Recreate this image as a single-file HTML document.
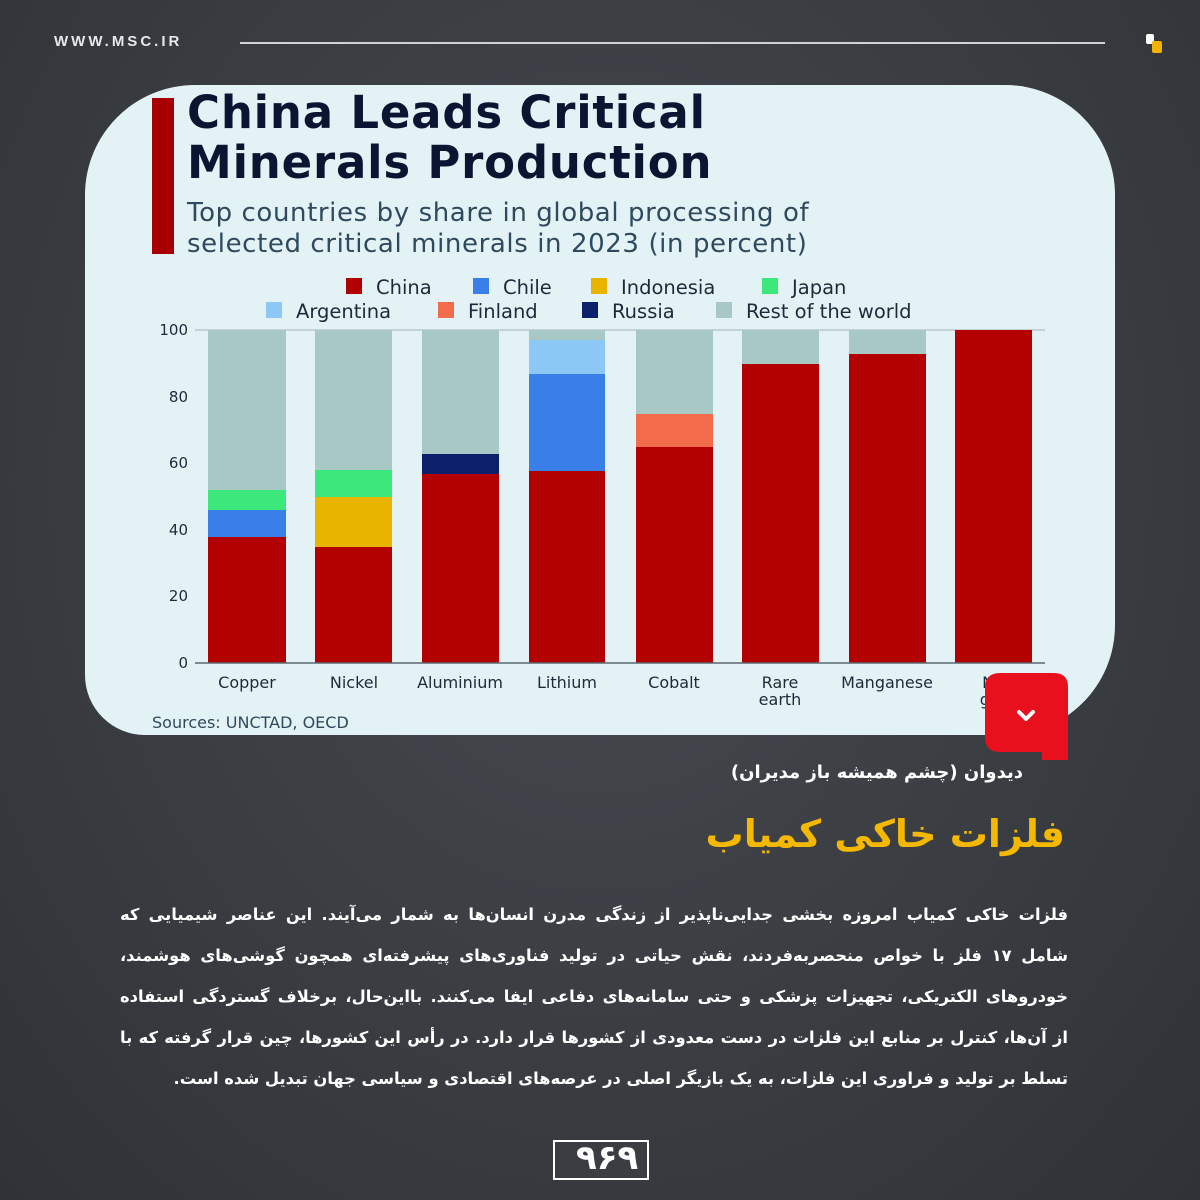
<!DOCTYPE html>
<html><head><meta charset="utf-8"><style>
body{margin:0;width:1200px;height:1200px;overflow:hidden;background:radial-gradient(ellipse at 50% 40%,#474a50 0%,#3a3d42 55%,#2f3236 100%);font-family:"DejaVu Sans","Liberation Sans",sans-serif;position:relative}
.abs{position:absolute}
.fa{font-family:"DejaVu Sans","Noto Sans CJK SC",sans-serif;direction:rtl;color:#fff}
.ln{position:absolute;left:120px;width:948px;font-size:16.3px;font-weight:bold;text-align:justify;text-align-last:justify;white-space:nowrap;direction:rtl}
</style></head><body>
<div class="abs" style="left:54px;top:33px;color:#e8e8e8;font-size:15px;letter-spacing:3px;font-weight:bold;font-family:'Liberation Sans',sans-serif">WWW.MSC.IR</div>
<div class="abs" style="left:240px;top:42px;width:865px;height:2px;background:#cfd2d6"></div>
<div class="abs" style="left:1146px;top:34px;width:8px;height:10px;background:#fff;border-radius:2px"></div>
<div class="abs" style="left:1152px;top:41px;width:10px;height:12px;background:#f2b400;border-radius:2px"></div>

<div class="abs" style="left:85px;top:85px;width:1030px;height:650px;background:#e3f3f5;border-radius:110px 110px 110px 60px"></div>
<div class="abs" style="left:152px;top:98px;width:22px;height:156px;background:#a80000"></div>
<div class="abs" style="left:187px;top:88px;font-size:45px;font-weight:bold;line-height:50px;color:#0b1430;letter-spacing:0.8px">China Leads Critical<br>Minerals Production</div>
<div class="abs" style="left:187px;top:198px;font-size:26px;line-height:31px;color:#2f4a5e;letter-spacing:0.6px">Top countries by share in global processing of<br>selected critical minerals in 2023 (in percent)</div>

<svg class="abs" style="left:0;top:0" width="1200" height="760" font-family="DejaVu Sans, sans-serif">
<g font-size="19.5" fill="#1d2a3a">
<rect x="346" y="278" width="16" height="16" fill="#b00000"/><text x="376" y="294">China</text>
<rect x="473" y="278" width="16" height="16" fill="#3a7ee8"/><text x="503" y="294">Chile</text>
<rect x="591" y="278" width="16" height="16" fill="#e8b400"/><text x="621" y="294">Indonesia</text>
<rect x="762" y="278" width="16" height="16" fill="#3de87a"/><text x="792" y="294">Japan</text>
<rect x="266" y="302" width="16" height="16" fill="#8cc8f5"/><text x="296" y="318">Argentina</text>
<rect x="438" y="302" width="16" height="16" fill="#f26b4a"/><text x="468" y="318">Finland</text>
<rect x="582" y="302" width="16" height="16" fill="#0b1f6b"/><text x="612" y="318">Russia</text>
<rect x="716" y="302" width="16" height="16" fill="#a8c8c6"/><text x="746" y="318">Rest of the world</text>
</g>
<g font-size="15" fill="#1d2a3a" text-anchor="end">
<text x="188" y="335">100</text><text x="188" y="402">80</text><text x="188" y="468">60</text><text x="188" y="535">40</text><text x="188" y="601">20</text><text x="188" y="668">0</text>
</g>
<line x1="195" y1="330" x2="1045" y2="330" stroke="#b8c8cc" stroke-width="1.5"/>
<g>
<rect x="208" y="330" width="78" height="160" fill="#a8c8c6"/>
<rect x="208" y="490" width="78" height="20" fill="#3de87a"/>
<rect x="208" y="510" width="78" height="27" fill="#3a7ee8"/>
<rect x="208" y="537" width="78" height="126" fill="#b30000"/>
<rect x="315" y="330" width="77" height="140" fill="#a8c8c6"/>
<rect x="315" y="470" width="77" height="27" fill="#3de87a"/>
<rect x="315" y="497" width="77" height="50" fill="#e8b400"/>
<rect x="315" y="547" width="77" height="116" fill="#b30000"/>
<rect x="422" y="330" width="77" height="124" fill="#a8c8c6"/>
<rect x="422" y="454" width="77" height="20" fill="#0b1f6b"/>
<rect x="422" y="474" width="77" height="189" fill="#b30000"/>
<rect x="529" y="330" width="76" height="10" fill="#a8c8c6"/>
<rect x="529" y="340" width="76" height="34" fill="#8cc8f5"/>
<rect x="529" y="374" width="76" height="97" fill="#3a7ee8"/>
<rect x="529" y="471" width="76" height="192" fill="#b30000"/>
<rect x="636" y="330" width="77" height="84" fill="#a8c8c6"/>
<rect x="636" y="414" width="77" height="33" fill="#f26b4a"/>
<rect x="636" y="447" width="77" height="216" fill="#b30000"/>
<rect x="742" y="330" width="77" height="34" fill="#a8c8c6"/>
<rect x="742" y="364" width="77" height="299" fill="#b30000"/>
<rect x="849" y="330" width="77" height="24" fill="#a8c8c6"/>
<rect x="849" y="354" width="77" height="309" fill="#b30000"/>
<rect x="955" y="330" width="77" height="333" fill="#b30000"/>
</g>
<line x1="195" y1="663" x2="1045" y2="663" stroke="#5a6770" stroke-width="1.5"/>
<g font-size="16" fill="#1d2a3a" text-anchor="middle">
<text x="247" y="688">Copper</text><text x="354" y="688">Nickel</text><text x="460" y="688">Aluminium</text><text x="567" y="688">Lithium</text><text x="674" y="688">Cobalt</text>
<text x="780" y="688">Rare</text><text x="780" y="705">earth</text><text x="887" y="688">Manganese</text><text x="993" y="688">Na</text><text x="993" y="705">gra</text>
</g>
<text x="152" y="728" font-size="16" fill="#2f4a5e">Sources: UNCTAD, OECD</text>
<path d="M1000 673 H1054 Q1068 673 1068 687 V760 Q1068 780 1048 780 H1030 Q1042 776 1042 760 V752 H1000 Q985 752 985 737 V688 Q985 673 1000 673Z" fill="#e8101c"/>
<path d="M1019 712 L1026 719 L1033 712" stroke="#fff" stroke-width="4" fill="none" stroke-linecap="round" stroke-linejoin="round"/>
</svg>

<div class="abs fa" style="right:177px;top:762px;font-size:18px;font-weight:bold">دیدوان (چشم همیشه باز مدیران)</div>
<div class="abs fa" style="right:135px;top:812px;font-size:38px;font-weight:bold;color:#f5b800">فلزات خاکی کمیاب</div>
<div class="fa">
<div class="ln" style="top:905px">فلزات خاکی کمیاب امروزه بخشی جدایی‌ناپذیر از زندگی مدرن انسان‌ها به شمار می‌آیند. این عناصر شیمیایی که</div>
<div class="ln" style="top:946px">شامل ۱۷ فلز با خواص منحصربه‌فردند، نقش حیاتی در تولید فناوری‌های پیشرفته‌ای همچون گوشی‌های هوشمند،</div>
<div class="ln" style="top:987px">خودروهای الکتریکی، تجهیزات پزشکی و حتی سامانه‌های دفاعی ایفا می‌کنند. بااین‌حال، برخلاف گستردگی استفاده</div>
<div class="ln" style="top:1028px">از آن‌ها، کنترل بر منابع این فلزات در دست معدودی از کشورها قرار دارد. در رأس این کشورها، چین قرار گرفته که با</div>
<div class="ln" style="top:1069px;text-align-last:right;text-align:right">تسلط بر تولید و فراوری این فلزات، به یک بازیگر اصلی در عرصه‌های اقتصادی و سیاسی جهان تبدیل شده است.</div>
</div>
<div class="abs" style="left:553px;top:1140px;width:96px;height:40px;border:2px solid #fff;box-sizing:border-box;background:#3a3d42"></div>
<div class="abs" style="left:576px;top:1138px;font-size:34px;font-weight:bold;color:#fff;letter-spacing:-2px">۹۶۹</div>
</body></html>
